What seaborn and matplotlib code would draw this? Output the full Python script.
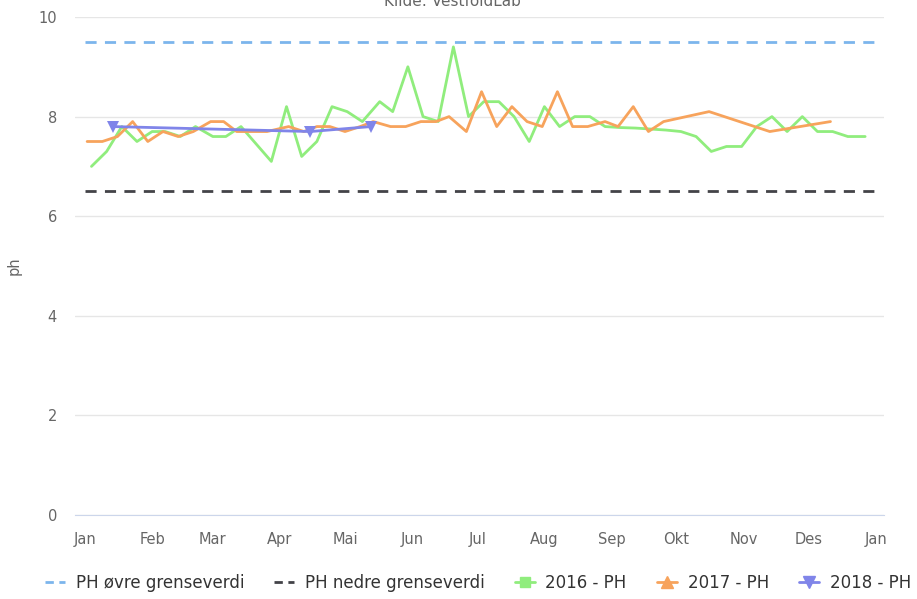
import numpy as np
import pandas as pd
import matplotlib
matplotlib.use("Agg")
import matplotlib.pyplot as plt
from matplotlib.lines import Line2D
import seaborn as sns

# Sample dates (month-day, plotted on one common year) and pH values
dates_2016 = ["01-04", "01-11", "01-18", "01-25", "02-01", "02-07", "02-14", "02-21",
              "03-01", "03-07", "03-14", "03-28", "04-04", "04-11", "04-18", "04-25",
              "05-02", "05-09", "05-17", "05-23", "05-30", "06-06", "06-13", "06-20",
              "06-27", "07-04", "07-11", "07-18", "07-25", "08-01", "08-08", "08-15",
              "08-22", "08-29", "09-05", "09-12", "09-19", "09-26", "10-03", "10-10",
              "10-17", "10-24", "10-31", "11-07", "11-14", "11-21", "11-28", "12-05",
              "12-12", "12-19", "12-27"]
ph_2016 = [7.0, 7.3, 7.8, 7.5, 7.7, 7.7, 7.6, 7.8,
           7.6, 7.6, 7.8, 7.1, 8.2, 7.2, 7.5, 8.2,
           8.1, 7.9, 8.3, 8.1, 9.0, 8.0, 7.9, 9.4,
           8.0, 8.3, 8.3, 8.0, 7.5, 8.2, 7.8, 8.0,
           8.0, 7.8, 7.78, 7.77, 7.75, 7.73, 7.7, 7.6,
           7.3, 7.4, 7.4, 7.8, 8.0, 7.7, 8.0, 7.7,
           7.7, 7.6, 7.6]

dates_2017 = ["01-02", "01-09", "01-16", "01-23", "01-30", "02-06", "02-13", "02-20",
              "02-28", "03-06", "03-12", "03-19", "03-26", "04-05", "04-12", "04-18",
              "04-24", "05-01", "05-08", "05-14", "05-22", "05-29", "06-05", "06-12",
              "06-18", "06-26", "07-03", "07-10", "07-17", "07-24", "07-31", "08-07",
              "08-14", "08-21", "08-29", "09-04", "09-11", "09-18", "09-25", "10-16",
              "11-13", "12-11"]
ph_2017 = [7.5, 7.5, 7.6, 7.9, 7.5, 7.7, 7.6, 7.7,
           7.9, 7.9, 7.7, 7.7, 7.7, 7.8, 7.7, 7.8,
           7.8, 7.7, 7.8, 7.9, 7.8, 7.8, 7.9, 7.9,
           8.0, 7.7, 8.5, 7.8, 8.2, 7.9, 7.8, 8.5,
           7.8, 7.8, 7.9, 7.8, 8.2, 7.7, 7.9, 8.1,
           7.7, 7.9]

dates_2018 = ["01-14", "04-15", "05-13"]
ph_2018 = [7.8, 7.7, 7.8]

upper_limit = 9.5
lower_limit = 6.5
limit_span = ["2017-01-01", "2018-01-01"]

month_labels = ["Jan", "Feb", "Mar", "Apr", "Mai", "Jun", "Jul", "Aug",
                "Sep", "Okt", "Nov", "Des", "Jan"]

c_upper, c_lower = "#7cb5ec", "#434348"
c16, c17, c18 = "#90ed7d", "#f7a35c", "#8085e9"


def to_dates(md):
    return pd.to_datetime(["2017-" + d for d in md])


df16 = pd.DataFrame({"dato": to_dates(dates_2016), "ph": ph_2016})
df17 = pd.DataFrame({"dato": to_dates(dates_2017), "ph": ph_2017})
df18 = pd.DataFrame({"dato": to_dates(dates_2018), "ph": ph_2018})
span = pd.to_datetime(limit_span)

sns.set_style("white")
plt.rcParams["font.family"] = ["DejaVu Sans"]

fig = plt.figure(figsize=(9.17, 5.99), dpi=100)
ax = fig.add_axes([75 / 917, 1 - 515 / 599, (884 - 75) / 917, (515 - 17) / 599])

ax.plot(span, [upper_limit] * 2, color=c_upper, lw=2, ls=(0, (4, 3)))
ax.plot(span, [lower_limit] * 2, color=c_lower, lw=2, ls=(0, (4, 3)))
sns.lineplot(data=df16, x="dato", y="ph", color=c16, lw=2, ax=ax)
sns.lineplot(data=df17, x="dato", y="ph", color=c17, lw=2, ax=ax)
sns.lineplot(data=df18, x="dato", y="ph", color=c18, lw=2, marker="v",
             markersize=8, markeredgewidth=0, ax=ax)

ax.set_ylim(0, 10)
ax.set_yticks([0, 2, 4, 6, 8, 10])
ax.set_xlim(pd.Timestamp("2017-01-01") - pd.Timedelta(days=4.6),
            pd.Timestamp("2017-01-01") + pd.Timedelta(days=368.7))
ticks = pd.date_range("2017-01-01", "2018-01-01", freq="MS")
ax.set_xticks(ticks)
ax.set_xticklabels(month_labels)

ax.grid(axis="y", color="#e6e6e6", lw=1)
ax.set_axisbelow(True)
for s in ["top", "right", "left"]:
    ax.spines[s].set_visible(False)
ax.spines["bottom"].set_color("#ccd6eb")
ax.tick_params(axis="x", length=10, color="#ccd6eb", colors="#666666",
               labelsize=10.5, pad=2)
ax.tick_params(axis="y", length=0, colors="#666666", labelsize=10.5, pad=13)
ax.set_xlabel("")
ax.set_ylabel("ph", color="#666666", fontsize=10.5)
ax.yaxis.set_label_coords(-(75 - 22) / (884 - 75), 0.5)

fig.text(0.493, 1 - 6 / 599, "Kilde: VestfoldLab", ha="center", va="baseline",
         color="#666666", fontsize=11)

handles = [
    Line2D([], [], color=c_upper, lw=2, ls=(0, (3, 2))),
    Line2D([], [], color=c_lower, lw=2, ls=(0, (3, 2))),
    Line2D([], [], color=c16, lw=2, marker="s", markersize=7),
    Line2D([], [], color=c17, lw=2, marker="^", markersize=8),
    Line2D([], [], color=c18, lw=2, marker="v", markersize=8),
]
labels = ["PH øvre grenseverdi", "PH nedre grenseverdi", "2016 - PH", "2017 - PH", "2018 - PH"]
fig.legend(handles, labels, loc="center", bbox_to_anchor=(0.521, 1 - 583 / 599),
           ncol=5, frameon=False, fontsize=12, handlelength=1.2, handletextpad=0.65,
           columnspacing=1.8, labelcolor="#333333", borderaxespad=0, borderpad=0)

fig.savefig("out.png", dpi=100)
